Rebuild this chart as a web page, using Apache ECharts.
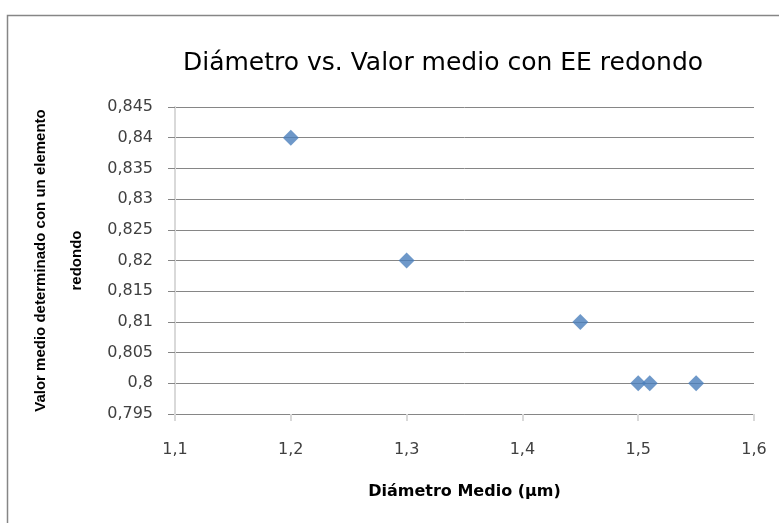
<!DOCTYPE html>
<html><head><meta charset="utf-8">
<script src="https://cdn.jsdelivr.net/npm/echarts@6/dist/echarts.min.js"></script>
<style>html,body{margin:0;padding:0;background:#fff}#c{width:779px;height:523px}</style>
</head><body><div id="c"></div>
<script>
const diametro = [1.2, 1.3, 1.45, 1.5, 1.51, 1.55];
const valorMedio = [0.84, 0.82, 0.81, 0.8, 0.8, 0.8];
const titleText = 'Diámetro vs. Valor medio con EE redondo';
const xName = 'Diámetro Medio (µm)';
const yName = 'Valor medio determinado con un elemento\nredondo';

const WIDE = '"DejaVu Sans", sans-serif';
const SANS = '"Liberation Sans", sans-serif';
const fmt = (d) => (v) => parseFloat(v.toFixed(d)).toString().replace('.', ',');

const chart = echarts.init(document.getElementById('c'), null, {renderer: 'canvas'});
chart.setOption({
  animation: false,
  backgroundColor: '#fff',
  graphic: [{
    type: 'rect', shape: {x: 7.5, y: 15.5, width: 800, height: 600},
    style: {fill: 'none', stroke: '#868686', lineWidth: 1.5}, silent: true
  }],
  title: {
    text: titleText, left: 438, top: 46, textAlign: 'center',
    textStyle: {fontFamily: WIDE, fontSize: 25, fontWeight: 'normal', color: '#000'}
  },
  grid: {left: 175, right: 25, top: 107, bottom: 109, containLabel: false},
  xAxis: {
    type: 'value', min: 1.1, max: 1.6, interval: 0.1,
    name: xName, nameLocation: 'middle', nameGap: 70,
    nameTextStyle: {fontFamily: WIDE, fontSize: 16, fontWeight: 'bold', color: '#000'},
    axisLine: {show: true, lineStyle: {color: '#868686', width: 1}},
    axisTick: {show: true, length: 7, lineStyle: {color: '#d9d9d9', width: 2}},
    axisLabel: {formatter: fmt(1), fontFamily: WIDE, fontSize: 16, color: '#404040', margin: 28},
    splitLine: {show: false}
  },
  yAxis: {
    type: 'value', min: 0.795, max: 0.845, interval: 0.005,
    name: yName, nameLocation: 'middle', nameGap: 80,
    nameTextStyle: {fontFamily: SANS, fontSize: 15, fontWeight: 'bold', color: '#000', lineHeight: 36, align: 'center'},
    axisLine: {show: true, onZero: false, lineStyle: {color: '#d9d9d9', width: 2}},
    axisTick: {show: true, length: 7, lineStyle: {color: '#868686', width: 1}},
    axisLabel: {formatter: fmt(3), fontFamily: WIDE, fontSize: 16, color: '#404040', margin: 22},
    splitLine: {show: true, lineStyle: {color: '#868686', width: 1}}
  },
  series: [{
    type: 'scatter',
    data: diametro.map((x, i) => [x, valorMedio[i]]),
    symbol: 'diamond', symbolSize: [16, 16],
    itemStyle: {color: '#4a7ebb'}
  }]
});
</script></body></html>
